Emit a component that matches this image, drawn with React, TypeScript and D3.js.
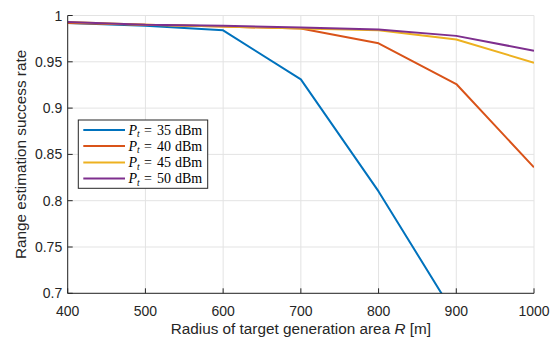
import React from "react";
import * as d3 from "d3";

const radii = [400, 500, 600, 700, 800, 900, 1000];
const pt35 = [0.992, 0.989, 0.984, 0.931, 0.81, 0.674, 0.55];
const pt40 = [0.992, 0.99, 0.988, 0.986, 0.97, 0.926, 0.836];
const pt45 = [0.993, 0.99, 0.988, 0.986, 0.984, 0.974, 0.949];
const pt50 = [0.993, 0.99, 0.989, 0.987, 0.985, 0.978, 0.962];
const seriesLabels = ["35", "40", "45", "50"];
const colors = ["#0072BD", "#D95319", "#EDB120", "#7E2F8E"];
const xTicks = [400, 500, 600, 700, 800, 900, 1000];
const yTicks = [0.7, 0.75, 0.8, 0.85, 0.9, 0.95, 1];

const W = 554;
const H = 339;
const L = 67.7, R = 534, T = 15.5, B = 293.3;

export default function App() {
  const x = d3.scaleLinear().domain([400, 1000]).range([L, R]);
  const y = d3.scaleLinear().domain([0.7, 1]).range([B, T]);
  const series = [pt35, pt40, pt45, pt50];
  const line = d3
    .line<number>()
    .x((_, i) => x(radii[i]))
    .y((d) => y(d));
  const axisColor = "#262626";
  const gridColor = "#e3e3e3";
  const font = "'Liberation Sans', Arial, sans-serif";
  const serif = "'Liberation Serif', 'DejaVu Serif', serif";
  const legX = 78.3, legY = 120, legW = 129.4, legH = 68.3;
  const rowYs = [130, 146, 162.5, 178.5];
  return (
    <svg width={W} height={H} style={{ position: "absolute", left: 0, top: 0 }}>
      <rect x={0} y={0} width={W} height={H} fill="#fff" />
      <defs>
        <clipPath id="plotClip">
          <rect x={L} y={T} width={R - L} height={B - T} />
        </clipPath>
      </defs>
      {xTicks.map((t) => (
        <line key={"gx" + t} x1={x(t)} x2={x(t)} y1={T} y2={B} stroke={gridColor} strokeWidth={1} />
      ))}
      {yTicks.map((t) => (
        <line key={"gy" + t} x1={L} x2={R} y1={y(t)} y2={y(t)} stroke={gridColor} strokeWidth={1} />
      ))}
      <g clipPath="url(#plotClip)">
        {series.map((s, i) => (
          <path key={i} d={line(s) || ""} fill="none" stroke={colors[i]} strokeWidth={2} strokeLinejoin="round" />
        ))}
      </g>
      <line x1={L} x2={L} y1={T} y2={B} stroke={axisColor} strokeWidth={1} />
      <line x1={L} x2={R} y1={B} y2={B} stroke={axisColor} strokeWidth={1} />
      {xTicks.map((t) => (
        <g key={"tx" + t}>
          <line x1={x(t)} x2={x(t)} y1={B} y2={B - 5} stroke={axisColor} strokeWidth={1} />
          <text x={x(t)} y={B + 22.5} textAnchor="middle" fontFamily={font} fontSize={14} fill={axisColor}>
            {t}
          </text>
        </g>
      ))}
      {yTicks.map((t) => (
        <g key={"ty" + t}>
          <line x1={L} x2={L + 5} y1={y(t)} y2={y(t)} stroke={axisColor} strokeWidth={1} />
          <text x={L - 5.5} y={y(t) + 5} textAnchor="end" fontFamily={font} fontSize={14} fill={axisColor}>
            {d3.format("")(t)}
          </text>
        </g>
      ))}
      <text x={(L + R) / 2} y={334} textAnchor="middle" fontFamily={font} fontSize={15.3} fill={axisColor}>
        Radius of target generation area <tspan fontStyle="italic">R</tspan> [m]
      </text>
      <text
        transform={`translate(26, ${(T + B) / 2}) rotate(-90)`}
        textAnchor="middle"
        fontFamily={font}
        fontSize={15.3}
        fill={axisColor}
      >
        Range estimation success rate
      </text>
      <rect x={legX} y={legY} width={legW} height={legH} fill="#fff" stroke={axisColor} strokeWidth={1} />
      {seriesLabels.map((lab, i) => (
        <g key={"leg" + i}>
          <line x1={83.3} x2={125} y1={rowYs[i]} y2={rowYs[i]} stroke={colors[i]} strokeWidth={2} />
          <text x={128.5} y={rowYs[i] + 4.5} fontFamily={serif} fontSize={14} fill="#000">
            <tspan fontStyle="italic">P</tspan>
            <tspan fontStyle="italic" fontSize={9.5} dy={2.5}>t</tspan>
          </text>
          <text x={144} y={rowYs[i] + 4.5} fontFamily={serif} fontSize={14} fill="#000">=</text>
          <text x={157} y={rowYs[i] + 4.5} fontFamily={serif} fontSize={14} fill="#000">{lab}</text>
          <text x={175} y={rowYs[i] + 4.5} fontFamily={serif} fontSize={14} fill="#000">dBm</text>
        </g>
      ))}
    </svg>
  );
}
